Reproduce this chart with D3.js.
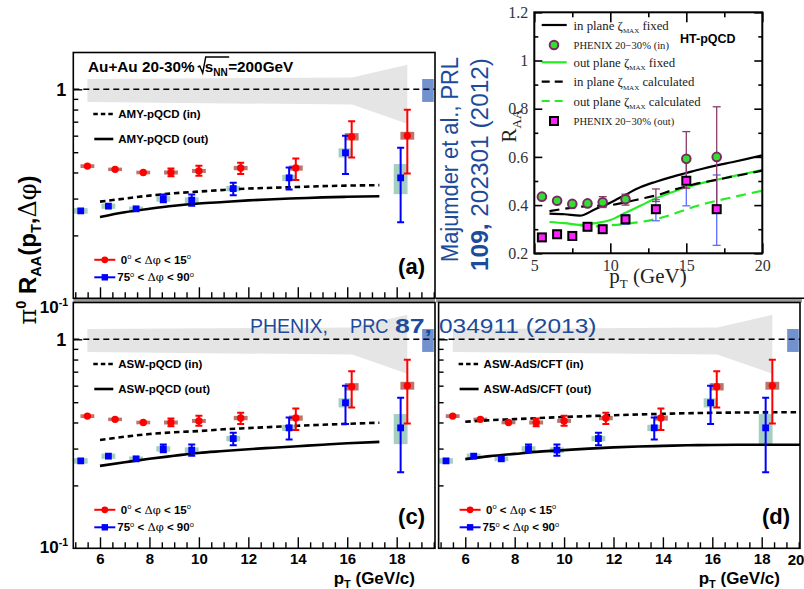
<!DOCTYPE html>
<html><head><meta charset="utf-8">
<script src="https://cdn.jsdelivr.net/npm/d3@7"></script>
<style>body{margin:0;background:#fff}svg{display:block}</style>
</head><body>
<script>
const W = 804, H = 589;
const sans = "'Liberation Sans', Arial, Helvetica, sans-serif";
const serif = "'Liberation Serif', 'Times New Roman', serif";
const symf = "'DejaVu Serif', 'Liberation Serif', serif";

// ---- PHENIX pi0 R_AA(pT, dphi), Au+Au 20-30% ----
// in-plane bin 0 < dphi < 15 deg
const ptIn      = [5.49, 6.61, 7.75, 8.87, 10.0, 11.69, 13.92, 16.18, 18.43];
const raaIn     = [0.429, 0.414, 0.400, 0.400, 0.407, 0.420, 0.420, 0.593, 0.600];
const statInHi  = [0.429, 0.414, 0.400, 0.418, 0.431, 0.445, 0.467, 0.703, 0.798];
const statInLo  = [0.429, 0.414, 0.400, 0.384, 0.386, 0.393, 0.368, 0.472, 0.396];
const sysIn     = [0.009, 0.008, 0.008, 0.009, 0.009, 0.010, 0.012, 0.024, 0.026];
// out-of-plane bin 75 < dphi < 90 deg
const ptOut     = [5.22, 6.34, 7.46, 8.56, 9.71, 11.39, 13.65, 15.93, 18.16];
const raaOut    = [0.262, 0.276, 0.268, 0.299, 0.295, 0.335, 0.377, 0.497, 0.377];
const statOutHi = [0.262, 0.276, 0.268, 0.314, 0.314, 0.357, 0.423, 0.600, 0.525];
const statOutLo = [0.262, 0.276, 0.268, 0.288, 0.277, 0.311, 0.332, 0.393, 0.231];
const sysOut    = [0.008, 0.008, 0.007, 0.009, 0.009, 0.010, 0.013, 0.025, 0.062];
// p+p reference uncertainty band and global scale uncertainty
const bandPt = [5.49, 16.2, 18.43];
const bandHi = [1.12, 1.14, 1.31];
const bandLo = [0.87, 0.845, 0.685];
const normPt = [19.03, 19.5];
const normHi = 1.12, normLo = 0.87;

// ---- model curves ----
const thPt   = [6, 7, 8, 9, 10, 11, 12, 13, 14, 15, 16, 17.3];
const amyIn  = [0.290, 0.300, 0.310, 0.318, 0.324, 0.330, 0.335, 0.338, 0.341, 0.344, 0.346, 0.348];
const amyOut = [0.245, 0.258, 0.268, 0.277, 0.284, 0.289, 0.294, 0.298, 0.301, 0.304, 0.306, 0.308];
const aswIn  = [0.330, 0.342, 0.352, 0.359, 0.364, 0.371, 0.376, 0.381, 0.386, 0.390, 0.394, 0.399];
const aswOut = [0.248, 0.258, 0.268, 0.277, 0.286, 0.292, 0.298, 0.303, 0.308, 0.313, 0.318, 0.323];
const adsPt  = [6, 7, 8, 9, 10, 11, 12, 13, 14, 15, 16, 18, 19.6];
const adsIn  = [0.403, 0.410, 0.415, 0.420, 0.425, 0.429, 0.433, 0.437, 0.440, 0.443, 0.445, 0.447, 0.448];
const adsOut = [0.267, 0.276, 0.283, 0.290, 0.295, 0.300, 0.304, 0.307, 0.309, 0.311, 0.312, 0.313, 0.313];

// ---- HT-pQCD comparison (linear axes); null = point not shown ----
const hPt     = [5.5, 6.5, 7.5, 8.5, 9.5, 11, 13, 15, 17];
const hIn     = [0.435, 0.418, 0.405, 0.407, 0.412, 0.424, null, 0.592, 0.600];
const hInHi   = [0.435, 0.418, 0.405, 0.407, 0.435, 0.445, 0.467, 0.705, 0.808];
const hInLo   = [0.435, 0.418, 0.405, 0.407, 0.390, 0.400, 0.415, 0.470, 0.400];
const hOut    = [0.266, 0.279, 0.272, 0.310, 0.300, 0.341, 0.383, 0.501, 0.383];
const hOutHi  = [0.266, 0.279, 0.272, 0.310, 0.312, 0.360, 0.423, 0.600, 0.525];
const hOutLo  = [0.266, 0.279, 0.272, 0.310, 0.285, 0.320, 0.335, 0.397, 0.233];
const htPt     = [6, 7, 8, 9, 10, 11, 12, 13, 14, 15, 16, 17, 18, 19, 20];
const inFixed  = [0.365, 0.362, 0.356, 0.383, 0.410, 0.443, 0.475, 0.497, 0.516, 0.533, 0.550, 0.565, 0.578, 0.592, 0.607];
const outFixed = [0.330, 0.325, 0.318, 0.325, 0.338, 0.368, 0.398, 0.428, 0.452, 0.474, 0.491, 0.505, 0.519, 0.532, 0.546];
const inCalc   = [0.375, 0.385, 0.393, 0.397, 0.400, 0.412, 0.426, 0.440, 0.460, 0.478, 0.493, 0.505, 0.518, 0.530, 0.543];
const outCalcPt = [8, 9, 10, 11, 12, 13, 14, 15, 16, 17, 18, 19, 20];
const outCalc   = [0.316, 0.312, 0.316, 0.322, 0.330, 0.342, 0.360, 0.382, 0.402, 0.418, 0.432, 0.446, 0.460];

const xMajor = [6, 8, 10, 12, 14, 16, 18];
const xMinor = d3.range(5, 19.51, 0.5).filter(v => v % 2 !== 0);
const yMinor = [0.2, 0.3, 0.4, 0.5, 0.6, 0.7, 0.8, 0.9];

const svg = d3.select('body').append('svg').attr('width', W).attr('height', H)
  .style('font-family', sans);
svg.append('rect').attr('width', W).attr('height', H).attr('fill', '#fff');

const RED = '#ff0000', BLUE = '#0000ff';
const XDOM = [4.92, 19.55], YDOM = [0.1, 1.5];

function drawPanel(p) {
  const x = d3.scaleLinear().domain(XDOM).range([p.L, p.R]);
  const y = d3.scaleLog().domain(YDOM).range([p.B, p.T]);
  const g = svg.append('g');
  const cid = 'clip-' + p.id;
  svg.append('clipPath').attr('id', cid).append('rect')
    .attr('x', p.L).attr('y', p.T).attr('width', p.R - p.L).attr('height', p.B - p.T);
  const gc = g.append('g').attr('clip-path', `url(#${cid})`);

  // reference band
  const area = d3.area().x(i => x(bandPt[i])).y0(i => y(bandLo[i])).y1(i => y(bandHi[i]));
  gc.append('path').datum(d3.range(bandPt.length)).attr('d', area).attr('fill', '#e5e5e5');
  gc.append('rect').attr('x', x(normPt[0])).attr('width', x(normPt[1]) - x(normPt[0]))
    .attr('y', y(normHi)).attr('height', y(normLo) - y(normHi)).attr('fill', '#7291cf');
  gc.append('line').attr('x1', p.L).attr('x2', p.R).attr('y1', y(1)).attr('y2', y(1))
    .attr('stroke', '#000').attr('stroke-width', 1.5).attr('stroke-dasharray', '6,4');

  // systematic boxes
  const hw = 0.28;
  ptIn.forEach((v, i) => gc.append('rect').attr('x', x(v - hw)).attr('width', x(v + hw) - x(v - hw))
    .attr('y', y(raaIn[i] + sysIn[i])).attr('height', y(raaIn[i] - sysIn[i]) - y(raaIn[i] + sysIn[i]))
    .attr('fill', '#bb756e'));
  ptOut.forEach((v, i) => gc.append('rect').attr('x', x(v - hw)).attr('width', x(v + hw) - x(v - hw))
    .attr('y', y(raaOut[i] + sysOut[i])).attr('height', y(raaOut[i] - sysOut[i]) - y(raaOut[i] + sysOut[i]))
    .attr('fill', '#a6cfc3'));

  // model curves
  const line = d3.line().x(d => x(d[0])).y(d => y(d[1])).curve(d3.curveMonotoneX);
  gc.append('path').datum(p.thX.map((v, i) => [v, p.thIn[i]])).attr('d', line)
    .attr('fill', 'none').attr('stroke', '#000').attr('stroke-width', 2.6).attr('stroke-dasharray', '5.5,3.8');
  gc.append('path').datum(p.thX.map((v, i) => [v, p.thOut[i]])).attr('d', line)
    .attr('fill', 'none').attr('stroke', '#000').attr('stroke-width', 2.6);

  // statistical error bars
  function bars(pts, hi, lo, col) {
    pts.forEach((v, i) => {
      if (hi[i] - lo[i] < 1e-6) return;
      const xx = x(v);
      gc.append('line').attr('x1', xx).attr('x2', xx).attr('y1', y(hi[i])).attr('y2', y(lo[i]))
        .attr('stroke', col).attr('stroke-width', 2);
      [hi[i], lo[i]].forEach(e => gc.append('line').attr('x1', xx - 3.5).attr('x2', xx + 3.5)
        .attr('y1', y(e)).attr('y2', y(e)).attr('stroke', col).attr('stroke-width', 2));
    });
  }
  bars(ptIn, statInHi, statInLo, RED);
  bars(ptOut, statOutHi, statOutLo, BLUE);
  ptIn.forEach((v, i) => gc.append('circle').attr('cx', x(v)).attr('cy', y(raaIn[i])).attr('r', 3.7).attr('fill', RED));
  ptOut.forEach((v, i) => gc.append('rect').attr('x', x(v) - 3.4).attr('y', y(raaOut[i]) - 3.4)
    .attr('width', 6.8).attr('height', 6.8).attr('fill', BLUE));

  // model legend
  const ly1 = p.T + 61.5, ly2 = p.T + 86.5;
  g.append('line').attr('x1', p.L + 20).attr('x2', p.L + 40).attr('y1', ly1).attr('y2', ly1)
    .attr('stroke', '#000').attr('stroke-width', 2.6).attr('stroke-dasharray', '4.5,3');
  g.append('line').attr('x1', p.L + 21).attr('x2', p.L + 40).attr('y1', ly2).attr('y2', ly2)
    .attr('stroke', '#000').attr('stroke-width', 2.6);
  g.append('text').attr('x', p.L + 45).attr('y', ly1 + 4).attr('font-size', 11.5).attr('font-weight', 'bold').text(p.nameIn);
  g.append('text').attr('x', p.L + 45).attr('y', ly2 + 4).attr('font-size', 11.5).attr('font-weight', 'bold').text(p.nameOut);

  // data legend
  const ry = p.B - 38.5, by = p.B - 21;
  g.append('line').attr('x1', p.L + 21).attr('x2', p.L + 42).attr('y1', ry).attr('y2', ry).attr('stroke', RED).attr('stroke-width', 2);
  g.append('circle').attr('cx', p.L + 31.5).attr('cy', ry).attr('r', 3.4).attr('fill', RED);
  g.append('line').attr('x1', p.L + 21).attr('x2', p.L + 42).attr('y1', by).attr('y2', by).attr('stroke', BLUE).attr('stroke-width', 2);
  g.append('rect').attr('x', p.L + 28.3).attr('y', by - 3.2).attr('width', 6.4).attr('height', 6.4).attr('fill', BLUE);
  function phiLabel(tx, ty, a, b) {
    const t = g.append('text').attr('x', tx).attr('y', ty).attr('font-size', 11.5).attr('font-weight', 'bold');
    t.append('tspan').text(a);
    t.append('tspan').attr('font-size', 7.5).attr('font-weight', 'normal').attr('dy', -4.5).text('o');
    t.append('tspan').attr('dy', 4.5).text(' < ');
    t.append('tspan').attr('font-family', symf).attr('font-weight', 'normal').text('Δφ');
    t.append('tspan').text(' < ' + b);
    t.append('tspan').attr('font-size', 7.5).attr('font-weight', 'normal').attr('dy', -4.5).text('o');
  }
  phiLabel(p.L + 47.5, ry + 4, '0', '15');
  phiLabel(p.L + 44, by + 4, '75', '90');

  g.append('text').attr('x', p.R - 10).attr('y', p.B - 24).attr('text-anchor', 'end')
    .attr('font-size', 22).attr('font-weight', 'bold').text(p.lab);

  // frame
  g.append('rect').attr('x', p.L).attr('y', p.T).attr('width', p.R - p.L).attr('height', p.B - p.T)
    .attr('fill', 'none').attr('stroke', '#000').attr('stroke-width', 1.6);

  // axes with inward ticks
  const bottom = g.append('g').attr('transform', `translate(0,${p.B})`);
  bottom.call(d3.axisBottom(x).tickValues(xMajor).tickSizeInner(-11).tickSizeOuter(0).tickPadding(5)
    .tickFormat(p.xLabels ? d3.format('d') : () => ''));
  bottom.append('g').call(d3.axisBottom(x).tickValues(xMinor).tickSizeInner(-6).tickSizeOuter(0).tickFormat(() => ''));
  const left = g.append('g').attr('transform', `translate(${p.L},0)`);
  left.call(d3.axisLeft(y).tickValues([1]).tickSizeInner(-9).tickSizeOuter(0).tickPadding(7)
    .tickFormat(p.yLabels ? () => '1' : () => ''));
  left.append('g').call(d3.axisLeft(y).tickValues(yMinor).tickSizeInner(-5).tickSizeOuter(0).tickFormat(() => ''));
  g.selectAll('.domain').remove();
  g.selectAll('.tick line').attr('stroke', '#000').attr('stroke-width', 1.4);
  bottom.selectAll('text').attr('font-size', 15).attr('font-weight', 'bold').attr('font-family', sans).attr('fill', '#000');
  left.selectAll('text').attr('font-size', 18).attr('font-weight', 'bold').attr('font-family', sans).attr('fill', '#000');

  if (p.yLabels) {
    const t = g.append('text').attr('x', 68).attr('y', y(0.1) + p.lowOff).attr('text-anchor', 'end')
      .attr('font-size', 17).attr('font-weight', 'bold');
    t.append('tspan').text('10');
    t.append('tspan').attr('font-size', 10.5).attr('dy', -7).text('-1');
  }
  if (p.xLabels) {
    const t = g.append('text').attr('x', p.R - 20).attr('y', 584).attr('text-anchor', 'end')
      .attr('font-size', 17).attr('font-weight', 'bold');
    t.append('tspan').text('p');
    t.append('tspan').attr('font-size', 11).attr('dy', 4).text('T');
    t.append('tspan').attr('dy', -4).text(' (GeV/c)');
  }
  return { x, y };
}

// separators between the stacked panels
svg.append('rect').attr('x', 73.3).attr('y', 298.3).attr('width', 361.7).attr('height', 4.2).attr('fill', '#9a9a9a');
svg.append('rect').attr('x', 436).attr('y', 298.3).attr('width', 366).attr('height', 4.2).attr('fill', '#9a9a9a');
svg.append('line').attr('x1', 436).attr('x2', 804).attr('y1', 298.3).attr('y2', 298.3).attr('stroke', '#000').attr('stroke-width', 1.6);

drawPanel({ id: 'a', L: 73.3, R: 435, T: 52.5, B: 298.3, lab: '(a)', thX: thPt, thIn: amyIn, thOut: amyOut,
  nameIn: 'AMY-pQCD (in)', nameOut: 'AMY-pQCD (out)', yLabels: true, xLabels: false, lowOff: 15 });
drawPanel({ id: 'c', L: 73.3, R: 435, T: 302.5, B: 548.3, lab: '(c)', thX: thPt, thIn: aswIn, thOut: aswOut,
  nameIn: 'ASW-pQCD (in)', nameOut: 'ASW-pQCD (out)', yLabels: true, xLabels: true, lowOff: 5 });
drawPanel({ id: 'd', L: 438.6, R: 800, T: 302.5, B: 548.3, lab: '(d)', thX: adsPt, thIn: adsIn, thOut: adsOut,
  nameIn: 'ASW-AdS/CFT (in)', nameOut: 'ASW-AdS/CFT (out)', yLabels: false, xLabels: true, lowOff: 0 });
svg.append('text').attr('x', 796).attr('y', 565).attr('text-anchor', 'middle')
  .attr('font-size', 15).attr('font-weight', 'bold').text('20');

// header of panel (a)
{
  const hy = 72, fs = 15.3;
  const t1 = svg.append('text').attr('x', 88).attr('y', hy).attr('font-size', fs).attr('font-weight', 'bold').text('Au+Au 20-30%');
  const rx = 88 + t1.node().getComputedTextLength() + 3;
  const t2 = svg.append('text').attr('x', rx + 7).attr('y', hy).attr('font-size', fs).attr('font-weight', 'bold');
  t2.append('tspan').text('s');
  t2.append('tspan').attr('font-size', 10).attr('dy', 4).text('NN');
  const w2 = t2.node().getComputedTextLength();
  svg.append('path').attr('d', `M${rx},${hy - 5} l2,-1 l3,7 l3,-16 h${w2 + 0.5}`)
    .attr('fill', 'none').attr('stroke', '#000').attr('stroke-width', 1.4);
  svg.append('text').attr('x', rx + 7.5 + w2).attr('y', hy).attr('font-size', fs).attr('font-weight', 'bold').text('=200GeV');
}

// common y title
{
  const t = svg.append('text').attr('transform', 'translate(36,250) rotate(-90)')
    .attr('text-anchor', 'middle').attr('font-size', 24).attr('font-weight', 'bold');
  t.append('tspan').attr('font-family', symf).attr('font-weight', 'normal').text('π');
  t.append('tspan').attr('font-size', 14.5).attr('dy', -10).text('0');
  t.append('tspan').attr('dy', 10).text(' R');
  t.append('tspan').attr('font-size', 14.5).attr('dy', 5).text('AA');
  t.append('tspan').attr('dy', -5).text('(p');
  t.append('tspan').attr('font-size', 14.5).attr('dy', 5).text('T');
  t.append('tspan').attr('dy', -5).text(',');
  t.append('tspan').attr('font-family', symf).attr('font-weight', 'normal').text('Δφ');
  t.append('tspan').text(')');
}

// ---- HT-pQCD comparison panel ----
{
  const L = 534.3, R = 762.3, T = 12.3, B = 253.3;
  const x = d3.scaleLinear().domain([5, 20]).range([L, R]);
  const y = d3.scaleLinear().domain([0.2, 1.2]).range([B, T]);
  const g = svg.append('g').style('font-family', serif);
  const line = d3.line().x(d => x(d[0])).y(d => y(d[1])).curve(d3.curveMonotoneX);
  const GREEN = '#22ee22';
  const curve = (xs, ys, col, dash) => g.append('path').datum(xs.map((v, i) => [v, ys[i]])).attr('d', line)
    .attr('fill', 'none').attr('stroke', col).attr('stroke-width', 2.2).attr('stroke-dasharray', dash || null);
  curve(htPt, inFixed, '#000');
  curve(htPt, outFixed, GREEN);
  curve(outCalcPt, outCalc, GREEN, '10,6');
  curve(htPt, inCalc, '#000', '10,6');

  function bars(hi, lo, col) {
    hPt.forEach((v, i) => {
      if (hi[i] - lo[i] < 1e-6) return;
      g.append('line').attr('x1', x(v)).attr('x2', x(v)).attr('y1', y(hi[i])).attr('y2', y(lo[i])).attr('stroke', col).attr('stroke-width', 1.3);
      [hi[i], lo[i]].forEach(e => g.append('line').attr('x1', x(v) - 4).attr('x2', x(v) + 4).attr('y1', y(e)).attr('y2', y(e))
        .attr('stroke', col).attr('stroke-width', 1.3));
    });
  }
  bars(hOutHi, hOutLo, '#5b6cff');
  bars(hInHi, hInLo, '#8a3d6c');
  hPt.forEach((v, i) => { if (hIn[i] == null) return;
    g.append('circle').attr('cx', x(v)).attr('cy', y(hIn[i])).attr('r', 4.3)
      .attr('fill', '#33dd33').attr('stroke', '#7a2a62').attr('stroke-width', 2); });
  hPt.forEach((v, i) => g.append('rect').attr('x', x(v) - 4).attr('y', y(hOut[i]) - 4).attr('width', 8).attr('height', 8)
    .attr('fill', '#ff22ff').attr('stroke', '#000').attr('stroke-width', 2));

  // legend
  const rows = [25, 45, 62.3, 81.7, 101, 121];
  const lx0 = 541.7, lx1 = 566.7, tx = 573.5;
  g.append('line').attr('x1', lx0).attr('x2', lx1).attr('y1', rows[0]).attr('y2', rows[0]).attr('stroke', '#000').attr('stroke-width', 2.2);
  g.append('circle').attr('cx', 554).attr('cy', rows[1]).attr('r', 4.3).attr('fill', '#33dd33').attr('stroke', '#7a2a62').attr('stroke-width', 2);
  g.append('line').attr('x1', lx0).attr('x2', lx1).attr('y1', rows[2]).attr('y2', rows[2]).attr('stroke', GREEN).attr('stroke-width', 2.2);
  g.append('line').attr('x1', lx0).attr('x2', lx1).attr('y1', rows[3]).attr('y2', rows[3]).attr('stroke', '#000').attr('stroke-width', 2.2).attr('stroke-dasharray', '8,5');
  g.append('line').attr('x1', lx0).attr('x2', lx1).attr('y1', rows[4]).attr('y2', rows[4]).attr('stroke', GREEN).attr('stroke-width', 2.2).attr('stroke-dasharray', '8,5');
  g.append('rect').attr('x', 550).attr('y', rows[5] - 4).attr('width', 8).attr('height', 8).attr('fill', '#ff22ff').attr('stroke', '#000').attr('stroke-width', 2);
  function zetaText(ty, a, b) {
    const t = g.append('text').attr('x', tx).attr('y', ty + 4.5).attr('font-size', 12.8).attr('fill', '#222');
    t.append('tspan').text(a + ' ζ');
    t.append('tspan').attr('font-size', 7).attr('dy', 3.5).text('MAX');
    t.append('tspan').attr('dy', -3.5).text(' ' + b);
  }
  zetaText(rows[0], 'in plane', 'fixed');
  g.append('text').attr('x', tx).attr('y', rows[1] + 4).attr('font-size', 10.6).attr('fill', '#222').text('PHENIX 20−30% (in)');
  zetaText(rows[2], 'out plane', 'fixed');
  zetaText(rows[3], 'in plane', 'calculated');
  zetaText(rows[4], 'out plane', 'calculated');
  g.append('text').attr('x', tx).attr('y', rows[5] + 4).attr('font-size', 10.6).attr('fill', '#222').text('PHENIX 20−30% (out)');
  g.append('text').attr('x', 680).attr('y', 42.5).attr('font-family', sans).attr('font-weight', 'bold').attr('font-size', 12.5).text('HT-pQCD');

  // frame and ticks
  g.append('rect').attr('x', L).attr('y', T).attr('width', R - L).attr('height', B - T).attr('fill', 'none').attr('stroke', '#000').attr('stroke-width', 2);
  const ax = (gen, tx2, ty2) => g.append('g').attr('transform', `translate(${tx2},${ty2})`).call(gen);
  const fmtY = v => (Math.abs(v - 1) < 1e-9 ? '1' : d3.format('.1f')(v));
  ax(d3.axisBottom(x).tickValues([5, 10, 15, 20]).tickSizeInner(-10).tickSizeOuter(0).tickPadding(6).tickFormat(d3.format('d')), 0, B);
  ax(d3.axisBottom(x).tickValues([7.5, 12.5, 17.5]).tickSizeInner(-5).tickSizeOuter(0).tickFormat(() => ''), 0, B);
  ax(d3.axisTop(x).tickValues([5, 10, 15, 20]).tickSizeInner(-10).tickSizeOuter(0).tickFormat(() => ''), 0, T);
  ax(d3.axisTop(x).tickValues([7.5, 12.5, 17.5]).tickSizeInner(-5).tickSizeOuter(0).tickFormat(() => ''), 0, T);
  ax(d3.axisLeft(y).tickValues([0.2, 0.4, 0.6, 0.8, 1.0, 1.2]).tickSizeInner(-8).tickSizeOuter(0).tickPadding(6).tickFormat(fmtY), L, 0);
  ax(d3.axisLeft(y).tickValues([0.3, 0.5, 0.7, 0.9, 1.1]).tickSizeInner(-4).tickSizeOuter(0).tickFormat(() => ''), L, 0);
  ax(d3.axisRight(y).tickValues([0.2, 0.4, 0.6, 0.8, 1.0, 1.2]).tickSizeInner(-8).tickSizeOuter(0).tickFormat(() => ''), R, 0);
  ax(d3.axisRight(y).tickValues([0.3, 0.5, 0.7, 0.9, 1.1]).tickSizeInner(-4).tickSizeOuter(0).tickFormat(() => ''), R, 0);
  g.selectAll('.domain').remove();
  g.selectAll('.tick line').attr('stroke', '#000').attr('stroke-width', 1.6);
  g.selectAll('.tick text').attr('font-family', serif).attr('font-size', 16).attr('fill', '#333');

  const xt = g.append('text').attr('x', 648).attr('y', 283).attr('text-anchor', 'middle').attr('font-size', 21).attr('fill', '#222');
  xt.append('tspan').text('p');
  xt.append('tspan').attr('font-size', 13).attr('dy', 5).text('T');
  xt.append('tspan').attr('dy', -5).text(' (GeV)');
  const yt = g.append('text').attr('transform', 'translate(516,126) rotate(-90)').attr('text-anchor', 'middle').attr('font-size', 21).attr('fill', '#222');
  yt.append('tspan').text('R');
  yt.append('tspan').attr('font-size', 13).attr('dy', 5).text('AA');
}

// references
const REFBLUE = '#1d4b9b';
{
  svg.append('text').attr('transform', 'translate(458,262) rotate(-90)').attr('font-size', 23).attr('fill', REFBLUE)
    .attr('textLength', 205).attr('lengthAdjust', 'spacingAndGlyphs').text('Majumder et al., PRL');
  const t2 = svg.append('text').attr('transform', 'translate(488,271) rotate(-90)').attr('font-size', 23).attr('fill', REFBLUE)
    .attr('textLength', 213).attr('lengthAdjust', 'spacingAndGlyphs');
  t2.append('tspan').attr('font-weight', 'bold').text('109,');
  t2.append('tspan').text(' 202301 (2012)');
  const seg = (txt, x0, len, bold) => svg.append('text').attr('x', x0).attr('y', 333).attr('font-size', 19.5)
    .attr('font-weight', bold ? 'bold' : 'normal').attr('fill', REFBLUE)
    .attr('textLength', len).attr('lengthAdjust', 'spacingAndGlyphs').text(txt);
  seg('PHENIX,', 250, 78);
  seg('PRC', 350, 38.5);
  seg('87,', 395, 37, true);
  seg('034911 (2013)', 439, 157.5);
}
</script>
</body></html>
